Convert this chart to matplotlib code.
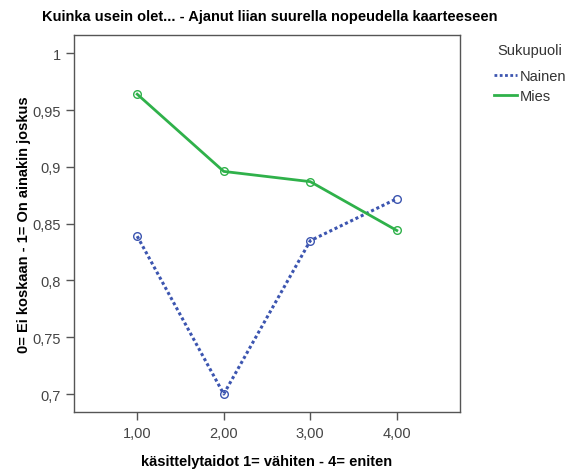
import matplotlib.pyplot as plt
from matplotlib.lines import Line2D

plt.rcParams['font.family'] = ['Liberation Sans', 'DejaVu Sans']

# Data
skills = [1, 2, 3, 4]
nainen = [0.839, 0.700, 0.835, 0.872]
mies = [0.964, 0.896, 0.887, 0.844]
yticks = [0.7, 0.75, 0.8, 0.85, 0.9, 0.95, 1.0]
ytick_labels = ['0,7', '0,75', '0,8', '0,85', '0,9', '0,95', '1']
xtick_labels = ['1,00', '2,00', '3,00', '4,00']

blue = '#3c55b0'
green = '#2fb14a'
frame = '#555555'
txt = '#333333'

W, H = 580, 477
fig = plt.figure(figsize=(W / 100, H / 100), dpi=100)
ax = fig.add_axes([0.1276, 0.1342, 0.6655, 0.7903])

ax.plot(skills, nainen, color=blue, lw=2.2, linestyle=(0, (1, 0.9)),
        marker='o', ms=5.5, mfc='none', mec=blue, mew=1.0)
ax.plot(skills, mies, color=green, lw=2.0, linestyle='-',
        marker='o', ms=5.5, mfc='none', mec=green, mew=1.0)

ax.set_xlim(0.27, 4.73)
ax.set_ylim(0.6842, 1.0161)
ax.set_xticks(skills)
ax.set_xticklabels(xtick_labels)
ax.set_yticks(yticks)
ax.set_yticklabels(ytick_labels)

for s in ax.spines.values():
    s.set_color(frame)
    s.set_linewidth(1.0)
ax.tick_params(axis='both', direction='out', length=6, width=1.0,
               color=frame, labelcolor='#444444', labelsize=10.5)
ax.tick_params(axis='x', pad=4)

ax.set_xlabel('käsittelytaidot 1= vähiten - 4= eniten', fontsize=10.5,
              fontweight='bold', color='black', labelpad=10)
ax.set_ylabel('0= Ei koskaan - 1= On ainakin joskus', fontsize=10.5,
              fontweight='bold', color='black', labelpad=1)
fig.text(270 / W, 1 - 17 / H,
         'Kuinka usein olet... - Ajanut liian suurella nopeudella kaarteeseen',
         fontsize=10.5, fontweight='bold', ha='center', va='center')

# legend
fig.text(497 / W, 1 - 51 / H, 'Sukupuoli', fontsize=10.5, color=txt,
         ha='left', va='center')
handles = [Line2D([], [], color=blue, lw=2.0, linestyle=(0, (1, 0.9))),
           Line2D([], [], color=green, lw=2.0)]
leg = fig.legend(handles, ['Nainen', 'Mies'],
                 loc='upper left', bbox_to_anchor=(494 / W, 1 - 70 / H),
                 frameon=False, fontsize=10.5, borderpad=0, borderaxespad=0,
                 handlelength=1.6, handletextpad=0.15, labelspacing=0.44)
for t in leg.get_texts():
    t.set_color(txt)

fig.savefig('out.png', dpi=100)
